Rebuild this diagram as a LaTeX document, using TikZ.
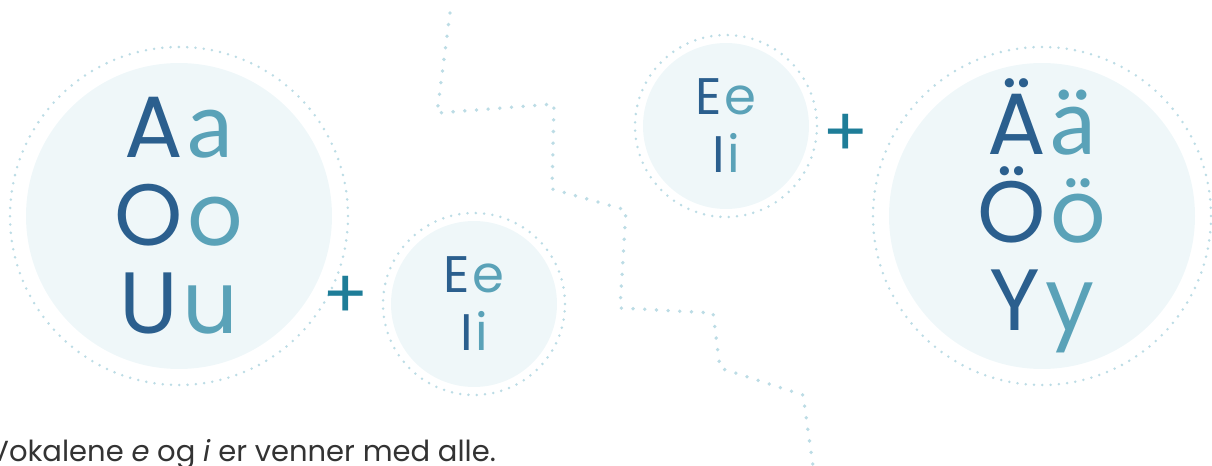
\documentclass[tikz,border=0pt]{standalone}
\usepackage{fontspec}
\setmainfont{Poppins}
\newfontfamily\latofont{Lato}
\usetikzlibrary{positioning}

\definecolor{vokaldark}{HTML}{2B5F8E}
\definecolor{vokallight}{HTML}{5AA2B8}
\definecolor{discfill}{HTML}{EFF7F9}
\definecolor{ringdot}{HTML}{BCDCE5}
\definecolor{plusblue}{HTML}{1E7D98}
\definecolor{notegray}{HTML}{333333}

\newcommand{\vpair}[2]{\textcolor{vokaldark}{#1}\kern0.05em\textcolor{vokallight}{#2}}
\newcommand{\twoa}[1]{{\latofont\fontsize{46}{44}\selectfont #1}}

\begin{document}
\begin{tikzpicture}[
  x=0.5pt, y=-0.5pt,
  disc/.style={circle, fill=discfill, inner sep=0pt, align=center},
  bigdisc/.style={disc, minimum size=153pt, font=\fontsize{43.5}{44}\selectfont},
  smalldisc/.style={disc, minimum size=83pt, font=\fontsize{25.7}{29}\selectfont},
  ring/.style={draw=ringdot, line width=1.4pt, line cap=round, dash pattern=on 0pt off 4.15pt},
  trail/.style={draw=ringdot, line width=1.9pt, line cap=round, dash pattern=on 0pt off 5.85pt},
  plus/.style={text=plusblue, font=\fontsize{34}{34}\selectfont, inner sep=0pt},
  note/.style={text=notegray, font=\fontsize{14.5}{16}\selectfont, anchor=base west, inner sep=0pt}
]
\useasboundingbox (0,0) rectangle (1212,466);

% zigzag divider
\draw[trail] (450,13) -- (437,113) -- (554,104) -- (552,189) -- (626,210)
  -- (620,308) -- (713,313) -- (720,368) -- (803,395) -- (815,480);

% left group
\node[bigdisc] (aou) at (179,216) {\vpair{A}{\twoa{a}}\\\vpair{O}{o}\\\vpair{U}{u}};
\draw[ring] (aou.center) circle[radius=84.5pt];
\node[plus] (plusleft) at (346,297) {+};
\node[smalldisc] (eileft) at (474,304) {\vpair{E}{e}\\\vpair{I}{i}};
\draw[ring] (eileft.center) circle[radius=45.5pt];

% right group
\node[smalldisc] (eiright) at (726,126) {\vpair{E}{e}\\\vpair{I}{i}};
\draw[ring] (eiright.center) circle[radius=45.5pt];
\node[plus] (plusright) at (846,135) {+};
\node[bigdisc] (aoy) at (1042,216) {\vpair{Ä}{\twoa{ä}}\\\vpair{Ö}{ö}\\\vpair{Y}{y}};
\draw[ring] (aoy.center) circle[radius=84.5pt];

\node[note] (caption) at (-11,461) {Vokalene \textit{e} og \textit{i} er venner med alle.};

\end{tikzpicture}
\end{document}
